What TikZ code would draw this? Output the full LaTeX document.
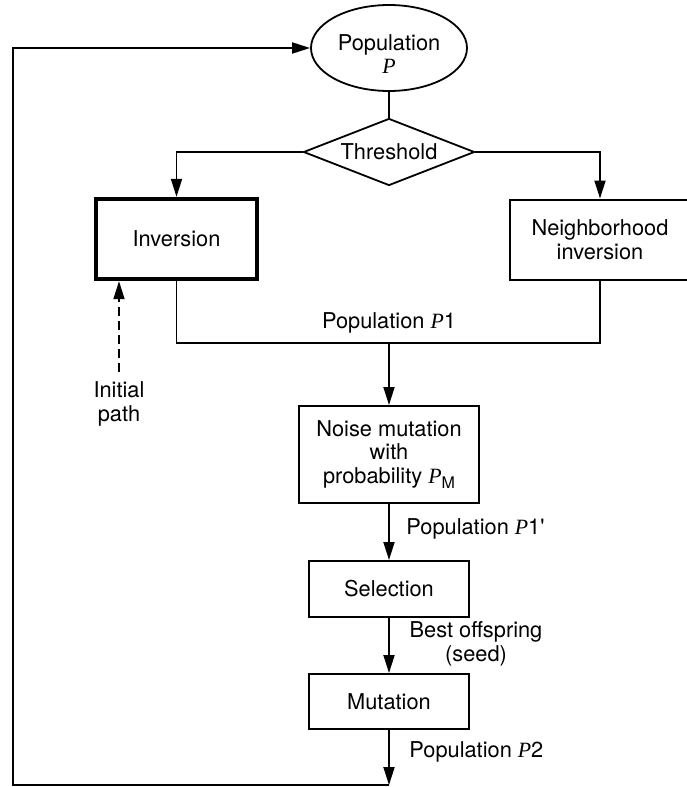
\documentclass[tikz,border=0pt]{standalone}
\usepackage{fontspec}
\setmainfont{TeX Gyre Heros}
\newfontfamily\tms{Liberation Serif}
\usetikzlibrary{shapes.geometric,arrows.meta}
% italic variable name and its upright subscript
\newcommand\varP{{\tms\itshape P}}
\newcommand\subM{\raisebox{-0.45ex}{\fontsize{8}{8}\selectfont M}}

\begin{document}
\begin{tikzpicture}[x=0.5pt,y=-0.5pt,
  every node/.style={font=\fontsize{10.9}{11.8}\selectfont},
  box/.style={draw, line width=1pt, inner sep=0pt, align=center},
  thickbox/.style={box, line width=2.2pt},
  conn/.style={line width=0.9pt},
  arr/.style={conn, -{Triangle[length=9pt,width=5.5pt]}},
  lbl/.style={align=center, inner sep=0pt}]
\useasboundingbox (0,0) rectangle (686,787);

% shapes
\node[box, ellipse, line width=0.9pt, minimum width=78pt, minimum height=43pt] (pop) at (389,48) {};
\node[lbl] (poptext) at (389,54) {Population\\\varP};
\node[box, diamond, line width=0.9pt, minimum width=85.5pt, minimum height=33.5pt] (thr) at (389,152) {};
\node[lbl] (thrtext) at (389,152) {Threshold};
\node[thickbox, minimum width=80.5pt, minimum height=40pt] (inv) at (176.5,239) {Inversion};
\node[box, minimum width=90pt, minimum height=40pt] (nbh) at (600,239.5) {Neighborhood\\inversion};
\node[box, minimum width=90pt, minimum height=48.5pt] (noise) at (389,454.5) {Noise mutation\\with\\probability \varP\subM};
\node[box, minimum width=80pt, minimum height=28pt] (sel) at (389,589) {Selection};
\node[box, minimum width=80pt, minimum height=27.5pt] (mut) at (389,701.5) {Mutation};

% helper points of the connectors
\coordinate (join) at (389,343);
\coordinate (loop) at (389,785);
\coordinate (bl) at (13,785);
\coordinate (tl) at (13,48);
\coordinate (init) at (119,372);

% connectors
\draw[conn] (pop) -- (thr);
\draw[arr] (thr.west) -| (inv);
\draw[arr] (thr.east) -| (nbh);
\draw[conn] (inv.south) |- (join) -| (nbh.south);
\draw[arr] (join) -- (noise);
\draw[arr] (noise) -- (sel);
\draw[arr] (sel) -- (mut);
\draw[arr] (mut) -- (loop);
\draw[arr] (loop) -- (bl) -- (tl) -- (pop);
\draw[arr, dash pattern=on 4.5pt off 2.5pt] (init) -- (inv.south -| init);

% labels
\node[lbl] (lp1) at (389,323) {Population \varP1};
\node[lbl, anchor=west] (lp1b) at (406,529) {Population \varP1\textquotesingle};
\node[lbl] (lbest) at (476,644) {Best offspring\\(seed)};
\node[lbl, anchor=west] (lp2) at (409,752) {Population \varP2};
\node[lbl] (linit) at (119,404) {Initial\\path};
\end{tikzpicture}
\end{document}
